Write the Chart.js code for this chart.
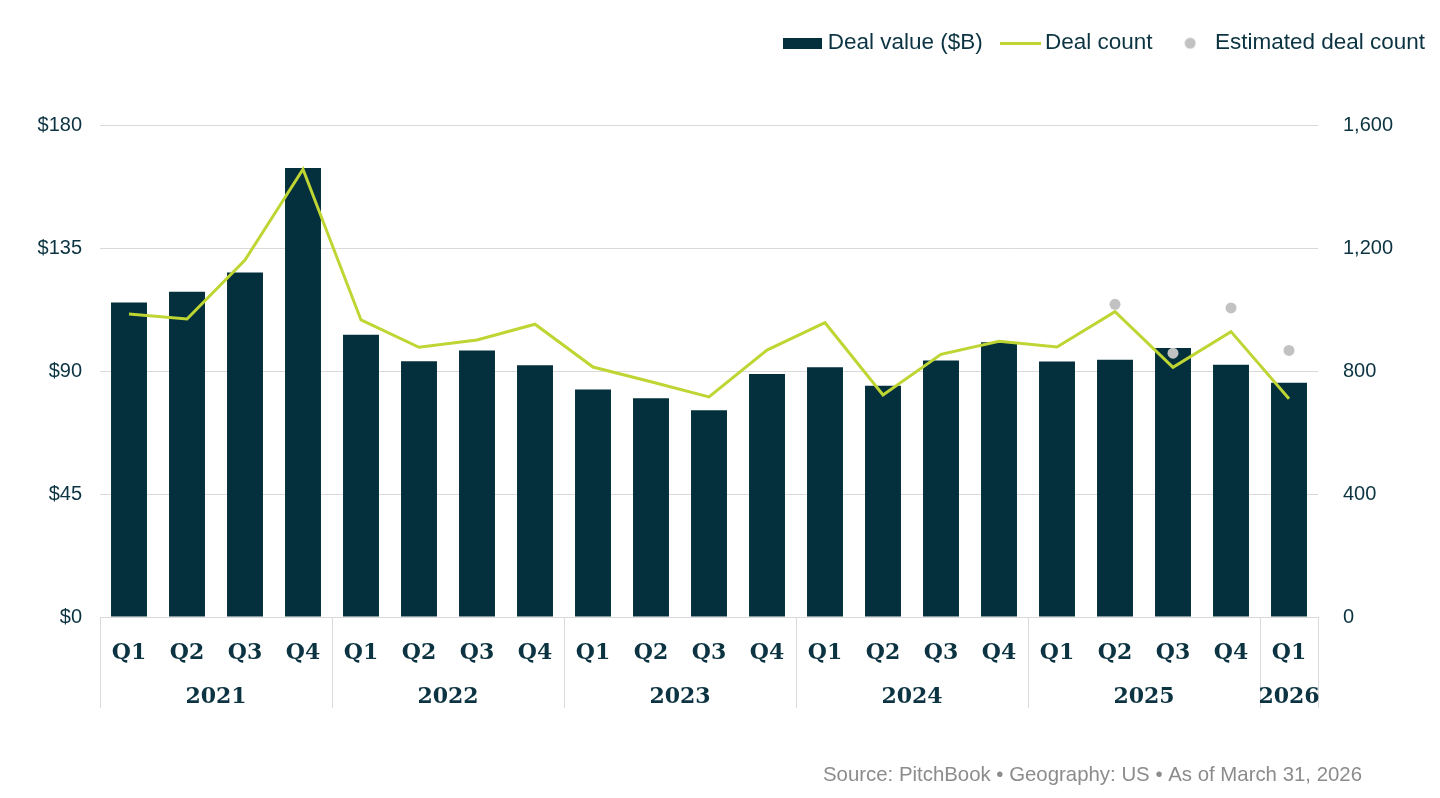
<!DOCTYPE html>
<html>
<head>
<meta charset="utf-8">
<title>Deal value and count</title>
<script src="https://cdn.jsdelivr.net/npm/chart.js@4.4.1/dist/chart.umd.min.js"></script>
<style>
  html, body { margin: 0; padding: 0; background: #fff; }
  #wrap { width: 1440px; height: 798px; position: relative; }
</style>
</head>
<body>
<div id="wrap"><canvas id="chart"></canvas></div>
<script>
// quarters and the year each one belongs to
const quarters = ['Q1','Q2','Q3','Q4','Q1','Q2','Q3','Q4','Q1','Q2','Q3','Q4',
                  'Q1','Q2','Q3','Q4','Q1','Q2','Q3','Q4','Q1'];
const years = ['2021','2021','2021','2021','2022','2022','2022','2022',
               '2023','2023','2023','2023','2024','2024','2024','2024',
               '2025','2025','2025','2025','2026'];

// deal value ($B), left axis
const dealValue = [115.1, 119.0, 126.0, 164.3, 103.3, 93.6, 97.5, 92.1,
                   83.2, 80.0, 75.6, 88.9, 91.4, 84.6, 93.8, 100.5,
                   93.5, 94.1, 98.4, 92.3, 85.7];
// deal count, right axis
const dealCount = [985, 969, 1161, 1456, 966, 877, 901, 952,
                   813, 765, 716, 868, 957, 722, 854, 897,
                   878, 993, 812, 928, 710];
// estimated deal count (only the latest quarters)
const estimatedCount = [null, null, null, null, null, null, null, null,
                        null, null, null, null, null, null, null, null,
                        null, 1017, 858, 1005, 867];

const valueTicks = [0, 45, 90, 135, 180];
const countTicks = [0, 400, 800, 1200, 1600];

const navy = '#03303c';
const lime = '#bfd533';
const grey = '#c2c2c2';
const textColor = '#0b3341';
const sans = 'Liberation Sans, Arial, Helvetica, sans-serif';
const serif = 'DejaVu Serif, Georgia, serif';

function marker(w, h, draw) {
  const c = document.createElement('canvas');
  c.width = w; c.height = h;
  draw(c.getContext('2d'), w, h);
  return c;
}
const legendMarks = [
  marker(39, 11, (g, w, h) => { g.fillStyle = navy; g.fillRect(0, 0, w, h); }),
  marker(41, 3, (g, w, h) => { g.fillStyle = lime; g.fillRect(0, 0, w, h); }),
  marker(12, 12, (g) => { g.fillStyle = grey; g.beginPath(); g.arc(6, 6, 5.5, 0, Math.PI * 2); g.fill(); })
];

// give the legend a fixed height so the plot starts where it does in the source
const legendSpace = {
  id: 'legendSpace',
  beforeInit(chart) {
    if (!chart.legend) return;
    const fit = chart.legend.fit;
    chart.legend.fit = function () { fit.call(this); this.height = 117; };
  }
};

// year row under the quarter labels, separators and source line
const yearAxis = {
  id: 'yearAxis',
  afterDraw(chart) {
    const ctx = chart.ctx;
    const x = chart.scales.x;
    const bottom = chart.chartArea.bottom;
    const half = (x.getPixelForValue(1) - x.getPixelForValue(0)) / 2;
    ctx.save();
    ctx.strokeStyle = '#d9d9d9';
    ctx.lineWidth = 1;
    ctx.fillStyle = textColor;
    ctx.font = 'bold 22px ' + serif;
    ctx.textAlign = 'center';
    ctx.textBaseline = 'middle';
    const vline = (px) => {
      const xx = Math.round(px) + 0.5;
      ctx.beginPath();
      ctx.moveTo(xx, bottom);
      ctx.lineTo(xx, bottom + 91);
      ctx.stroke();
    };
    let start = 0;
    for (let i = 1; i <= years.length; i++) {
      if (i === years.length || years[i] !== years[start]) {
        const left = x.getPixelForValue(start) - half;
        const right = x.getPixelForValue(i - 1) + half;
        vline(left);
        if (i === years.length) vline(right);
        ctx.fillText(years[start], (left + right) / 2, bottom + 80);
        start = i;
      }
    }
    ctx.font = '20.4px ' + sans;
    ctx.fillStyle = '#8c8c8c';
    ctx.textAlign = 'right';
    ctx.fillText('Source: PitchBook \u2022 Geography: US \u2022 As of March 31, 2026', 1362, 775);
    ctx.restore();
  }
};

new Chart(document.getElementById('chart'), {
  data: {
    labels: quarters,
    datasets: [
      {
        type: 'bar',
        label: 'Deal value ($B)',
        data: dealValue,
        backgroundColor: navy,
        yAxisID: 'y',
        barPercentage: 0.62,
        categoryPercentage: 1.0,
        order: 3
      },
      {
        type: 'line',
        label: 'Deal count',
        data: dealCount,
        borderColor: lime,
        backgroundColor: lime,
        borderWidth: 3,
        pointRadius: 0,
        pointHoverRadius: 0,
        tension: 0,
        yAxisID: 'y1',
        order: 2
      },
      {
        type: 'line',
        label: 'Estimated deal count',
        data: estimatedCount,
        showLine: false,
        pointRadius: 5.5,
        pointHoverRadius: 5.5,
        pointBackgroundColor: grey,
        pointBorderWidth: 0,
        borderColor: grey,
        backgroundColor: grey,
        yAxisID: 'y1',
        order: 1
      }
    ]
  },
  options: {
    responsive: true,
    maintainAspectRatio: false,
    animation: false,
    layout: { padding: { top: 8, right: -9, left: 0, bottom: 0 } },
    plugins: {
      tooltip: { enabled: false },
      legend: {
        position: 'top',
        align: 'end',
        labels: {
          usePointStyle: true,
          pointStyleWidth: 27,
          padding: 24,
          color: textColor,
          font: { family: sans, size: 22.5 },
          generateLabels(chart) {
            const items = Chart.defaults.plugins.legend.labels.generateLabels(chart);
            items.forEach(it => { it.pointStyle = legendMarks[it.datasetIndex]; });
            return items.sort((a, b) => a.datasetIndex - b.datasetIndex);
          }
        }
      }
    },
    scales: {
      x: {
        grid: { display: false },
        border: { display: true, color: '#d9d9d9', width: 1 },
        ticks: {
          color: textColor,
          padding: 15,
          maxRotation: 0,
          autoSkip: false,
          font: { family: serif, size: 22, weight: 'bold', lineHeight: 1.2 }
        },
        afterFit(scale) { scale.height = 181; }
      },
      y: {
        position: 'left',
        min: 0,
        max: 180,
        afterBuildTicks(scale) { scale.ticks = valueTicks.map(v => ({ value: v })); },
        grid: { color: '#d9d9d9', lineWidth: 1, drawTicks: false },
        border: { display: false },
        ticks: {
          color: textColor,
          padding: 18,
          font: { family: sans, size: 20 },
          callback: (v) => '$' + v
        },
        afterFit(scale) { scale.width = 100; }
      },
      y1: {
        position: 'right',
        min: 0,
        max: 1600,
        afterBuildTicks(scale) { scale.ticks = countTicks.map(v => ({ value: v })); },
        grid: { display: false, drawOnChartArea: false },
        border: { display: false },
        ticks: {
          color: textColor,
          padding: 17,
          font: { family: sans, size: 20 },
          callback: (v) => v.toLocaleString('en-US')
        },
        afterFit(scale) { scale.width = 131; }
      }
    }
  },
  plugins: [legendSpace, yearAxis]
});
</script>
</body>
</html>
